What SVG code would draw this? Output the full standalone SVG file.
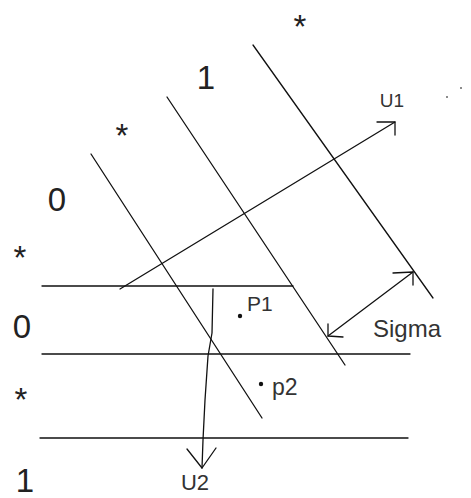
<svg xmlns="http://www.w3.org/2000/svg" width="471" height="498" viewBox="0 0 471 498">
<style>
.ln{stroke:#111;stroke-width:1.3;fill:none;stroke-linecap:round;stroke-linejoin:round}
.big{font-family:"Liberation Sans",Arial,sans-serif;font-size:33px;fill:#222;text-anchor:middle}
.lbl{font-family:"Liberation Sans",Arial,sans-serif;fill:#333}
.dot{fill:#111}
</style>
<rect width="471" height="498" fill="#fff"/>
<g id="connectors">
  <line class="ln" x1="91" y1="154" x2="262" y2="418"/>
  <line class="ln" x1="167" y1="97" x2="345" y2="365"/>
  <line class="ln" x1="253" y1="45" x2="433" y2="298"/>
  <line class="ln" x1="42" y1="286" x2="293" y2="286"/>
  <line class="ln" x1="42" y1="354" x2="410" y2="354"/>
  <line class="ln" x1="40" y1="438" x2="408" y2="438"/>
  <g id="u1-arrow">
    <line class="ln" x1="120" y1="289" x2="395" y2="122"/>
    <polyline class="ln" points="377,122 395,122 395,135"/>
  </g>
  <g id="u2-arrow">
    <polyline class="ln" points="213,289 212,333 208,356 205,400 203,440 202,468"/>
    <polyline class="ln" points="187,449 202,468 216,448"/>
  </g>
  <g id="sigma-arrow">
    <line class="ln" x1="328" y1="336" x2="413" y2="272"/>
    <polyline class="ln" points="393,273 413,272 413,285"/>
    <polyline class="ln" points="328,324 328,336 343,337"/>
  </g>
</g>
<g id="label-star-top"><text class="big" x="300" y="38">*</text></g>
<g id="label-1-top"><text class="big" x="206" y="89">1</text></g>
<g id="label-star-mid"><text class="big" x="122" y="147">*</text></g>
<g id="label-0-top"><text class="big" x="57" y="211">0</text></g>
<g id="label-star-l1"><text class="big" x="20" y="269">*</text></g>
<g id="label-0-left"><text class="big" x="22" y="338">0</text></g>
<g id="label-star-l2"><text class="big" x="21" y="411">*</text></g>
<g id="label-1-left"><text class="big" x="25" y="492">1</text></g>
<g id="label-u1"><text class="lbl" x="392" y="107" font-size="19" text-anchor="middle">U1</text></g>
<g id="label-u2"><text class="lbl" x="195" y="490" font-size="22" text-anchor="middle">U2</text></g>
<g id="point-p1"><circle class="dot" cx="240" cy="316" r="2.2"/><text class="lbl" x="247" y="311" font-size="21">P1</text></g>
<g id="point-p2"><circle class="dot" cx="261" cy="384" r="2.2"/><text class="lbl" x="272" y="395" font-size="23">p2</text></g>
<g id="label-sigma"><text class="lbl" x="373" y="337" font-size="24">Sigma</text></g>
<g id="specks"><circle cx="447" cy="97" r="1" fill="#666"/><circle cx="461" cy="88" r="1" fill="#666"/></g>
</svg>
